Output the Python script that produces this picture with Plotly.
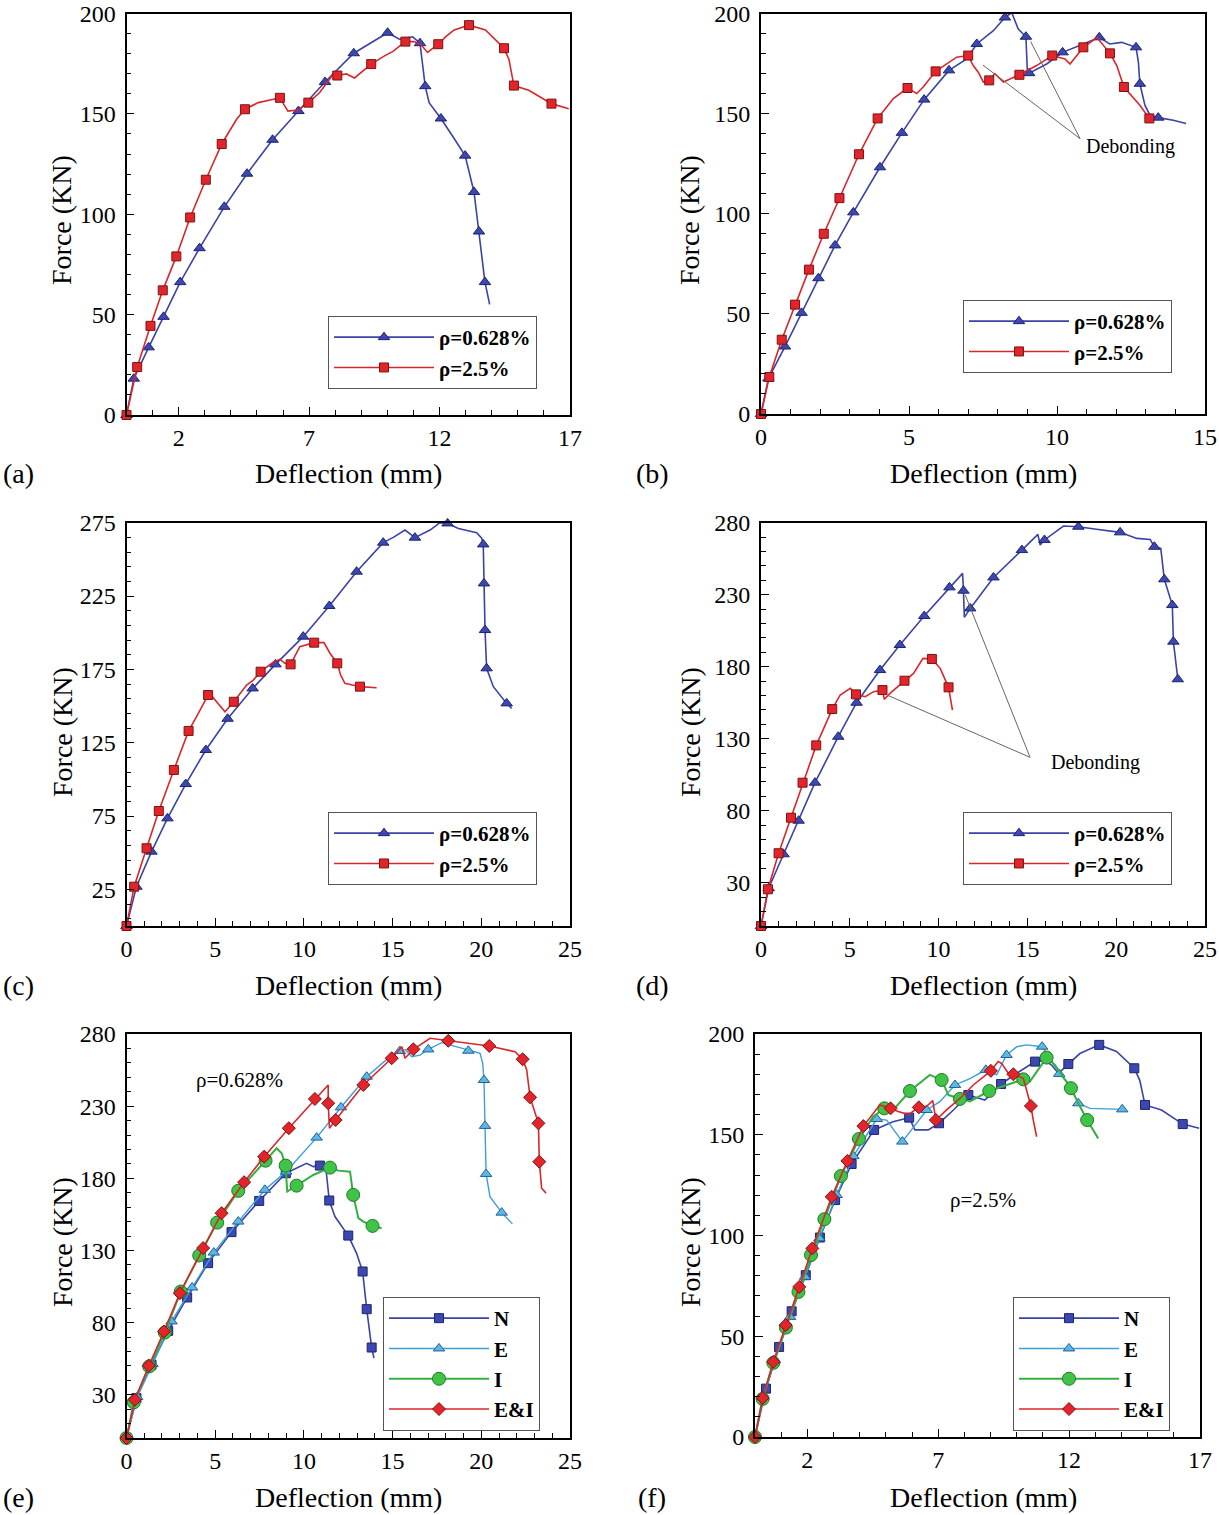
import plotly.graph_objects as go

# ---------------- data ----------------
# (a) rho = 0.628 %  /  rho = 2.5 %   (m = 1 -> point carries a symbol)
a_lo_x = [0, 0.28, 0.85, 1.42, 2.06, 2.80, 3.75, 4.62, 5.60, 6.59, 7.61, 8.71, 10.01, 10.46, 10.97, 11.25, 11.35, 11.45, 11.60, 12.05, 12.49, 12.98, 13.32, 13.51, 13.74, 13.92]
a_lo_y = [0, 18.1, 33.7, 48.9, 66.2, 83.1, 103.7, 120.2, 137.1, 151.4, 165.9, 180.2, 190.4, 187.2, 188.4, 185.2, 175.3, 163.8, 155.6, 147.7, 139.1, 129.2, 111.1, 91.4, 66.2, 55.1]
a_lo_m = [1, 1, 1, 1, 1, 1, 1, 1, 1, 1, 1, 1, 1, 0, 0, 1, 0, 1, 0, 1, 0, 1, 1, 1, 1, 0]

a_hi_x = [0, 0.41, 0.92, 1.39, 1.91, 2.44, 3.04, 3.65, 4.22, 4.54, 5.05, 5.88, 6.07, 6.19, 6.57, 6.97, 7.40, 7.91, 8.08, 8.43, 8.74, 9.38, 9.89, 10.20, 10.69, 11.03, 11.29, 11.54, 11.95, 12.24, 12.56, 13.13, 13.76, 14.47, 14.66, 14.85, 15.42, 16.29, 16.95]
a_hi_y = [0, 23.9, 44.4, 62.1, 79.0, 98.4, 117.2, 135.0, 147.3, 152.3, 155.6, 158.0, 153.9, 151.4, 151.9, 155.6, 160.5, 169.5, 169.1, 169.9, 167.9, 174.8, 178.9, 181.0, 186.0, 186.0, 184.4, 180.6, 184.7, 188.5, 191.8, 194.2, 191.8, 182.7, 177.1, 164.1, 161.8, 155.1, 152.6]
a_hi_m = [1, 1, 1, 1, 1, 1, 1, 1, 0, 1, 0, 1, 0, 0, 0, 1, 0, 0, 1, 0, 0, 1, 0, 0, 1, 0, 0, 0, 1, 0, 0, 1, 0, 1, 0, 1, 0, 1, 0]

# (b)
b_lo_x = [0, 0.25, 0.81, 1.37, 1.94, 2.50, 3.12, 4.02, 4.76, 5.51, 6.35, 6.95, 7.29, 7.85, 8.24, 8.47, 8.69, 8.95, 9.00, 9.06, 9.65, 10.19, 10.89, 11.43, 11.78, 12.18, 12.67, 12.75, 12.80, 12.97, 13.14, 13.42, 13.93, 14.36]
b_lo_y = [0, 17.7, 33.7, 50.5, 67.8, 84.2, 100.7, 123.2, 140.4, 157.0, 171.6, 177.3, 184.8, 191.4, 198.0, 200.5, 192.2, 188.4, 170.7, 170.2, 174.8, 180.6, 184.8, 188.1, 184.8, 185.6, 183.1, 175.7, 164.9, 154.2, 149.2, 148.0, 146.7, 145.1]
b_lo_m = [1, 1, 1, 1, 1, 1, 1, 1, 1, 1, 1, 0, 1, 0, 1, 0, 0, 1, 0, 1, 0, 1, 0, 1, 0, 0, 1, 0, 1, 0, 0, 1, 0, 0]

b_hi_x = [0, 0.28, 0.70, 1.15, 1.62, 2.12, 2.65, 3.31, 3.94, 4.47, 4.95, 5.26, 5.48, 5.90, 6.61, 7.00, 7.17, 7.34, 7.51, 7.71, 7.90, 8.19, 8.73, 9.31, 9.84, 10.27, 10.44, 10.89, 11.35, 11.79, 12.02, 12.26, 12.80, 13.12]
b_hi_y = [0, 18.5, 37.1, 54.6, 72.1, 90.0, 107.8, 129.7, 147.6, 157.5, 162.8, 160.0, 163.3, 171.1, 178.2, 179.0, 174.0, 170.7, 165.8, 166.6, 169.9, 165.8, 169.4, 174.0, 179.0, 177.3, 174.8, 183.1, 188.0, 180.1, 174.0, 163.3, 154.2, 147.6]
b_hi_m = [1, 1, 1, 1, 1, 1, 1, 1, 1, 0, 1, 0, 0, 1, 0, 1, 0, 0, 0, 1, 0, 0, 1, 0, 1, 0, 0, 1, 0, 1, 0, 1, 0, 1]

# (c)
c_lo_x = [0, 0.56, 1.41, 2.31, 3.34, 4.47, 5.70, 7.11, 8.40, 9.96, 11.43, 12.97, 14.47, 15.04, 15.70, 15.98, 16.26, 17.11, 17.67, 18.10, 18.71, 19.74, 20.02, 20.11, 20.15, 20.21, 20.30, 20.68, 21.43, 21.71]
c_lo_y = [0, 26.8, 50.7, 73.4, 96.8, 120.0, 141.3, 162.0, 178.4, 197.3, 218.2, 241.6, 261.4, 265.0, 270.0, 267.7, 264.8, 270.0, 275.0, 274.5, 271.1, 268.2, 264.4, 260.2, 233.6, 201.8, 175.7, 163.2, 151.8, 148.4]
c_lo_m = [1, 1, 1, 1, 1, 1, 1, 1, 1, 1, 1, 1, 1, 0, 0, 0, 1, 0, 0, 1, 0, 0, 0, 1, 1, 1, 1, 0, 1, 0]

c_hi_x = [0, 0.43, 1.13, 1.82, 2.67, 3.50, 3.95, 4.60, 4.84, 5.55, 6.05, 6.77, 7.15, 7.56, 8.27, 8.65, 8.93, 9.25, 9.77, 10.58, 11.13, 11.47, 11.88, 12.07, 12.31, 13.16, 14.10]
c_hi_y = [0, 26.8, 53.0, 78.4, 106.4, 133.0, 142.7, 157.5, 156.4, 146.1, 152.9, 164.3, 167.7, 173.4, 179.8, 181.8, 179.1, 178.4, 190.5, 193.2, 193.2, 186.0, 179.1, 171.1, 165.5, 163.2, 162.5]
c_hi_m = [1, 1, 1, 1, 1, 1, 0, 1, 0, 0, 1, 0, 0, 1, 0, 0, 0, 1, 0, 1, 0, 0, 1, 0, 0, 1, 0]

# (d)
d_lo_x = [0, 0.43, 1.27, 2.12, 3.04, 4.35, 5.38, 6.70, 7.82, 9.19, 10.61, 11.35, 11.40, 11.45, 11.78, 13.09, 14.69, 15.59, 15.72, 15.96, 17.03, 17.87, 18.89, 20.22, 21.16, 21.91, 22.15, 22.51, 22.71, 23.16, 23.22, 23.47]
d_lo_y = [0, 26.2, 49.8, 73.1, 99.5, 131.4, 155.0, 177.7, 195.1, 215.2, 235.1, 244.8, 232.8, 214.3, 220.5, 242.0, 261.0, 271.9, 264.5, 268.0, 277.7, 277.2, 275.5, 273.3, 269.1, 268.4, 263.3, 262.2, 240.7, 222.8, 197.4, 171.3]
d_lo_m = [1, 1, 1, 1, 1, 1, 1, 1, 1, 1, 1, 0, 1, 0, 1, 1, 1, 0, 0, 1, 0, 1, 0, 1, 0, 0, 1, 0, 1, 1, 1, 1]

d_hi_x = [0, 0.39, 0.99, 1.69, 2.34, 3.11, 4.01, 4.46, 5.03, 5.35, 5.87, 6.34, 6.84, 6.94, 7.37, 8.08, 8.59, 9.12, 9.62, 10.09, 10.56, 10.78]
d_hi_y = [0, 25.5, 50.5, 75.2, 99.5, 125.4, 150.6, 160.4, 165.0, 160.8, 159.2, 162.7, 163.8, 157.4, 162.7, 170.3, 175.4, 185.8, 185.4, 178.9, 165.7, 149.9]
d_hi_m = [1, 1, 1, 1, 1, 1, 1, 0, 0, 1, 0, 0, 1, 0, 0, 1, 0, 0, 1, 0, 1, 0]

# (e) rho = 0.628 %
e_n_x = [0, 0.56, 1.41, 2.35, 3.42, 4.60, 5.92, 7.48, 8.98, 9.77, 10.15, 10.53, 10.90, 11.24, 11.43, 11.75, 12.50, 12.97, 13.31, 13.54, 13.82, 13.95]
e_n_y = [0, 27.7, 50.8, 74.3, 97.4, 121.2, 142.7, 164.3, 183.5, 188.1, 190.4, 188.1, 188.8, 187.0, 164.6, 153.5, 140.3, 128.0, 115.4, 89.3, 62.7, 55.4]
e_n_m = [1, 1, 1, 1, 1, 1, 1, 1, 1, 0, 0, 0, 1, 0, 1, 0, 1, 0, 1, 1, 1, 0]

e_e_x = [0, 0.60, 1.47, 2.54, 3.70, 4.92, 6.30, 7.80, 9.00, 10.72, 12.09, 13.54, 14.85, 15.41, 15.70, 16.08, 16.54, 17.01, 17.77, 18.24, 19.27, 19.93, 20.08, 20.15, 20.21, 20.27, 20.49, 21.15, 21.75]
e_e_y = [0, 28.4, 51.2, 80.8, 104.3, 128.5, 150.0, 172.0, 184.6, 208.2, 229.2, 250.4, 264.3, 268.2, 269.3, 264.3, 265.4, 269.3, 274.0, 272.4, 268.4, 266.6, 259.7, 248.1, 216.3, 183.0, 167.3, 156.2, 148.4]
e_e_m = [1, 1, 1, 1, 1, 1, 1, 1, 1, 1, 1, 1, 0, 1, 0, 0, 0, 1, 0, 0, 1, 0, 0, 1, 1, 1, 0, 1, 0]

e_i_x = [0, 0.41, 1.28, 2.16, 3.06, 4.10, 5.11, 6.30, 7.84, 8.46, 8.75, 8.97, 9.06, 9.59, 10.53, 11.47, 11.94, 12.60, 12.78, 13.07, 13.35, 13.87, 14.38]
e_i_y = [0, 24.7, 49.6, 73.1, 101.5, 126.5, 149.3, 171.3, 192.2, 200.8, 197.4, 188.8, 170.8, 174.9, 182.3, 187.4, 185.3, 184.6, 168.5, 152.4, 150.0, 147.0, 145.4]
e_i_m = [1, 1, 1, 1, 1, 1, 1, 1, 1, 0, 0, 1, 0, 1, 0, 1, 0, 0, 1, 0, 0, 1, 0]

e_ei_x = [0, 0.47, 1.26, 2.11, 3.01, 4.32, 5.36, 6.63, 7.76, 9.15, 10.62, 11.37, 11.37, 11.44, 11.79, 13.35, 14.95, 15.52, 15.70, 16.17, 17.11, 18.14, 19.18, 20.45, 21.90, 22.33, 22.56, 22.75, 23.22, 23.27, 23.40, 23.65]
e_ei_y = [0, 26.5, 50.1, 73.8, 100.4, 131.6, 155.8, 177.3, 195.0, 214.7, 235.0, 244.7, 232.0, 214.7, 220.4, 244.7, 263.2, 271.2, 263.2, 269.4, 277.0, 275.3, 273.5, 271.7, 267.7, 262.5, 255.1, 236.1, 218.1, 191.5, 173.1, 169.7]
e_ei_m = [1, 1, 1, 1, 1, 1, 1, 1, 1, 1, 1, 0, 1, 0, 1, 1, 1, 0, 0, 1, 0, 1, 0, 1, 0, 1, 0, 1, 1, 1, 0, 0]

# (f) rho = 2.5 %
f_n_x = [0, 0.42, 0.92, 1.40, 1.94, 2.48, 3.06, 3.69, 4.55, 5.27, 5.89, 6.11, 6.62, 7.03, 7.58, 8.15, 8.78, 9.40, 10.00, 10.70, 11.08, 11.33, 11.59, 11.97, 12.41, 13.15, 13.81, 14.49, 14.70, 14.90, 15.53, 16.34, 16.97]
f_n_y = [0, 24.0, 44.7, 62.4, 80.3, 99.0, 117.6, 135.5, 152.4, 156.5, 158.5, 152.4, 152.4, 155.7, 162.3, 169.7, 167.2, 175.2, 180.5, 186.3, 186.8, 184.6, 180.5, 185.1, 190.3, 194.6, 191.3, 183.0, 177.0, 164.8, 162.3, 155.3, 153.2]
f_n_m = [1, 1, 1, 1, 1, 1, 1, 1, 1, 0, 1, 0, 0, 1, 0, 1, 0, 1, 0, 1, 0, 0, 0, 1, 0, 1, 0, 1, 0, 1, 0, 1, 0]

f_e_x = [0, 0.32, 0.76, 1.34, 1.91, 2.46, 3.12, 3.76, 4.65, 5.03, 5.63, 6.17, 6.56, 7.06, 7.64, 8.21, 8.82, 9.23, 9.61, 10.00, 10.38, 10.97, 11.27, 11.62, 12.03, 12.35, 12.80, 14.03]
f_e_y = [0, 19.9, 38.1, 59.6, 79.5, 98.6, 120.1, 139.4, 157.8, 157.3, 146.6, 155.7, 162.3, 166.4, 174.7, 177.9, 182.2, 179.7, 189.6, 193.7, 194.6, 193.7, 187.9, 180.2, 174.7, 165.6, 163.1, 162.6]
f_e_m = [1, 1, 1, 1, 1, 1, 1, 1, 1, 0, 1, 0, 1, 0, 1, 0, 1, 0, 1, 0, 0, 1, 0, 1, 0, 1, 0, 1]

f_i_x = [0, 0.29, 0.70, 1.18, 1.66, 2.14, 2.65, 3.28, 3.97, 4.51, 4.94, 5.28, 5.92, 6.68, 7.13, 7.39, 7.83, 8.21, 8.95, 9.49, 10.25, 10.50, 11.14, 11.46, 12.07, 12.35, 12.69, 13.11]
f_i_y = [0, 18.9, 36.8, 54.3, 72.0, 90.3, 108.1, 129.5, 147.9, 159.0, 163.1, 162.3, 171.7, 179.7, 177.2, 169.7, 167.8, 166.5, 171.7, 174.0, 177.5, 176.4, 188.3, 184.6, 173.1, 165.6, 157.3, 148.2]
f_i_m = [1, 1, 1, 1, 1, 1, 1, 1, 1, 0, 1, 0, 1, 0, 1, 0, 1, 0, 1, 0, 1, 0, 1, 0, 1, 0, 1, 0]

f_ei_x = [0, 0.29, 0.70, 1.17, 1.69, 2.19, 2.93, 3.53, 4.14, 4.77, 5.18, 5.47, 5.86, 6.26, 6.56, 6.79, 6.91, 7.32, 7.83, 8.34, 9.01, 9.29, 9.42, 9.68, 9.87, 10.25, 10.38, 10.54, 10.63, 10.76]
f_ei_y = [0, 19.4, 37.3, 55.5, 74.5, 93.6, 119.2, 137.0, 154.3, 164.8, 163.1, 161.5, 160.0, 163.6, 164.1, 166.9, 157.3, 162.3, 168.0, 174.7, 181.7, 186.3, 185.4, 180.5, 180.0, 178.0, 172.2, 164.3, 157.3, 149.0]
f_ei_m = [1, 1, 1, 1, 1, 1, 1, 1, 1, 0, 1, 0, 0, 1, 0, 0, 1, 0, 0, 0, 1, 0, 0, 0, 1, 0, 0, 1, 0, 0]

panel_labels = ["(a)", "(b)", "(c)", "(d)", "(e)", "(f)"]
rho_names = ["ρ=0.628%", "ρ=2.5%"]
combo_names = ["N", "E", "I", "E&I"]

# ---------------- styles ----------------
FONT = "Liberation Serif"
BLUE = "#3a43a6"
RED = "#d9262b"
LBLUE = "#3b9fdc"
GREEN = "#35b040"

STY = {
    "blue":  dict(line=BLUE, fill="#3d47b0", edge="#1d2470", symbol="triangle-up", size=10, lw=1.6),
    "red":   dict(line=RED, fill="#e3242b", edge="#7a1414", symbol="square", size=9, lw=1.6),
    "nblue": dict(line=BLUE, fill="#3d47b0", edge="#1d2470", symbol="square", size=9, lw=1.6),
    "lblue": dict(line=LBLUE, fill="#5bb6ea", edge="#23628f", symbol="triangle-up", size=10, lw=1.4),
    "green": dict(line=GREEN, fill="#3fc447", edge="#23782a", symbol="circle", size=13, lw=2.0),
    "red_d": dict(line=RED, fill="#e3242b", edge="#7a1414", symbol="diamond", size=10, lw=1.6),
}

fig = go.Figure()


def add_series(idx, name, xs, ys, ms, sty_key):
    assert len(xs) == len(ys) == len(ms), name
    s = STY[sty_key]
    xa = "x" if idx == 1 else f"x{idx}"
    ya = "y" if idx == 1 else f"y{idx}"
    leg = "legend" if idx == 1 else f"legend{idx}"
    marker = dict(symbol=s["symbol"], size=s["size"], color=s["fill"],
                  line=dict(color=s["edge"], width=1))
    fig.add_trace(go.Scatter(x=xs, y=ys, mode="lines", xaxis=xa, yaxis=ya,
                             line=dict(color=s["line"], width=s["lw"]),
                             showlegend=False, hoverinfo="skip"))
    mx = [x for x, m in zip(xs, ms) if m]
    my = [y for y, m in zip(ys, ms) if m]
    fig.add_trace(go.Scatter(x=mx, y=my, mode="markers", xaxis=xa, yaxis=ya,
                             marker=marker, showlegend=False, cliponaxis=False))
    fig.add_trace(go.Scatter(x=[None], y=[None], mode="lines+markers", xaxis=xa, yaxis=ya,
                             name=name, legend=leg,
                             line=dict(color=s["line"], width=s["lw"]), marker=marker))


add_series(1, rho_names[0], a_lo_x, a_lo_y, a_lo_m, "blue")
add_series(1, rho_names[1], a_hi_x, a_hi_y, a_hi_m, "red")
add_series(2, rho_names[0], b_lo_x, b_lo_y, b_lo_m, "blue")
add_series(2, rho_names[1], b_hi_x, b_hi_y, b_hi_m, "red")
add_series(3, rho_names[0], c_lo_x, c_lo_y, c_lo_m, "blue")
add_series(3, rho_names[1], c_hi_x, c_hi_y, c_hi_m, "red")
add_series(4, rho_names[0], d_lo_x, d_lo_y, d_lo_m, "blue")
add_series(4, rho_names[1], d_hi_x, d_hi_y, d_hi_m, "red")
add_series(5, combo_names[0], e_n_x, e_n_y, e_n_m, "nblue")
add_series(5, combo_names[1], e_e_x, e_e_y, e_e_m, "lblue")
add_series(5, combo_names[2], e_i_x, e_i_y, e_i_m, "green")
add_series(5, combo_names[3], e_ei_x, e_ei_y, e_ei_m, "red_d")
add_series(6, combo_names[0], f_n_x, f_n_y, f_n_m, "nblue")
add_series(6, combo_names[1], f_e_x, f_e_y, f_e_m, "lblue")
add_series(6, combo_names[2], f_i_x, f_i_y, f_i_m, "green")
add_series(6, combo_names[3], f_ei_x, f_ei_y, f_ei_m, "red_d")

# ---------------- axes ----------------
W, H = 1219, 1515
def px_x(p): return p / W
def px_y(p): return 1 - p / H

dom = {
    1: ([px_x(126.5), px_x(570)], [px_y(415), px_y(13.5)]),
    2: ([px_x(761), px_x(1205)], [px_y(414), px_y(13.5)]),
    3: ([px_x(126.5), px_x(570)], [px_y(926), px_y(522.7)]),
    4: ([px_x(761), px_x(1205)], [px_y(926), px_y(522.7)]),
    5: ([px_x(126.5), px_x(570)], [px_y(1438), px_y(1034)]),
    6: ([px_x(755), px_x(1200)], [px_y(1437), px_y(1034)]),
}
xcfg = {1: (17, 2, 5), 2: (15, 0, 5), 3: (25, 0, 5), 4: (25, 0, 5), 5: (25, 0, 5), 6: (17, 2, 5)}
ycfg = {1: (200, 0, 50, 0), 2: (200, 0, 50, 0), 3: (275, 25, 50, 5), 4: (280, 30, 50, 0),
        5: (280, 30, 50, 0), 6: (200, 0, 50, 0)}

tickfont = dict(family=FONT, size=24, color="black")
layout = dict(width=W, height=H, margin=dict(l=0, r=0, t=0, b=0, autoexpand=False),
              paper_bgcolor="white", plot_bgcolor="white",
              font=dict(family=FONT, color="black"))
for i in range(1, 7):
    xk = "xaxis" if i == 1 else f"xaxis{i}"
    yk = "yaxis" if i == 1 else f"yaxis{i}"
    xmax, xt0, xdt = xcfg[i]
    ymax, yt0, ydt, ymt0 = ycfg[i]
    layout[xk] = dict(domain=dom[i][0], anchor="y" if i == 1 else f"y{i}", automargin=False,
                      range=[0, xmax], tickmode="linear", tick0=xt0, dtick=xdt,
                      ticks="inside", ticklen=8, tickwidth=1.2, tickcolor="black",
                      minor=dict(tick0=0, dtick=1, ticks="inside", ticklen=5, tickcolor="black", tickwidth=1),
                      showline=True, linecolor="black", linewidth=1.8, mirror=True,
                      showgrid=False, zeroline=False, tickfont=tickfont, ticklabelstandoff=0)
    layout[yk] = dict(domain=dom[i][1], anchor="x" if i == 1 else f"x{i}", automargin=False,
                      range=[0, ymax], tickmode="linear", tick0=yt0, dtick=ydt,
                      ticks="inside", ticklen=8, tickwidth=1.2, tickcolor="black",
                      minor=dict(tick0=ymt0, dtick=10, ticks="inside", ticklen=5, tickcolor="black", tickwidth=1),
                      showline=True, linecolor="black", linewidth=1.8, mirror=True,
                      showgrid=False, zeroline=False, tickfont=tickfont, ticklabelstandoff=4)

# legends
leg_pos = {1: (328, 316), 2: (963, 300), 3: (328, 812), 4: (963, 812), 5: (383, 1297), 6: (1013, 1297)}
for i, (lx, ly) in leg_pos.items():
    k = "legend" if i == 1 else f"legend{i}"
    layout[k] = dict(x=px_x(lx), y=px_y(ly), xanchor="left", yanchor="top",
                     xref="paper", yref="paper",
                     bgcolor="white", bordercolor="#555555", borderwidth=1,
                     font=dict(family=FONT, size=21, color="black", weight="bold"),
                     itemwidth=100, tracegroupgap=0)

fig.update_layout(**layout)

# axis titles / panel labels as annotations
ann = []
col_cx = {0: 348, 1: 983}
col_fx = {0: 62, 1: 690}
row_ty = {0: 473, 1: 985, 2: 1497}
row_fy = {0: 220, 1: 732, 2: 1242}
for i in range(6):
    r, c = divmod(i, 2)
    ann.append(dict(text="Deflection (mm)", x=px_x(col_cx[c]), y=px_y(row_ty[r]), xref="paper", yref="paper",
                    showarrow=False, font=dict(family=FONT, size=28, color="black"),
                    xanchor="center", yanchor="middle"))
    ann.append(dict(text="Force (KN)", x=px_x(col_fx[c]), y=px_y(row_fy[r]), xref="paper", yref="paper",
                    showarrow=False, textangle=-90, font=dict(family=FONT, size=28, color="black"),
                    xanchor="center", yanchor="middle"))
    ann.append(dict(text=panel_labels[i], x=px_x(18 if c == 0 else 652), y=px_y(row_ty[r]),
                    xref="paper", yref="paper", showarrow=False,
                    font=dict(family=FONT, size=28, color="black"), xanchor="center", yanchor="middle"))

# Debonding callouts and in-plot labels
ann.append(dict(text="Debonding", x=12.47, y=133.5, xref="x2", yref="y2", showarrow=False,
                font=dict(family=FONT, size=20, color="black")))
ann.append(dict(text="Debonding", x=18.81, y=113.8, xref="x4", yref="y4", showarrow=False,
                font=dict(family=FONT, size=20, color="black")))
ann.append(dict(text="ρ=0.628%", x=6.39, y=248, xref="x5", yref="y5", showarrow=False,
                font=dict(family=FONT, size=21, color="black")))
ann.append(dict(text="ρ=2.5%", x=8.71, y=117.6, xref="x6", yref="y6", showarrow=False,
                font=dict(family=FONT, size=21, color="black")))
fig.update_layout(annotations=ann)

shapes = []
for (x0, y0, x1, y1, xr, yr) in [
    (10.78, 137.5, 7.5, 174.2, "x2", "y2"),
    (10.78, 137.5, 9.11, 186.0, "x2", "y2"),
    (15.15, 117.1, 7.09, 160.4, "x4", "y4"),
    (15.15, 117.1, 11.5, 229.8, "x4", "y4"),
]:
    shapes.append(dict(type="line", x0=x0, y0=y0, x1=x1, y1=y1, xref=xr, yref=yr,
                       line=dict(color="#666666", width=1)))
fig.update_layout(shapes=shapes)

fig.write_html("out.html", config={"displayModeBar": False},
               post_script="document.body.style.margin='0px';")
